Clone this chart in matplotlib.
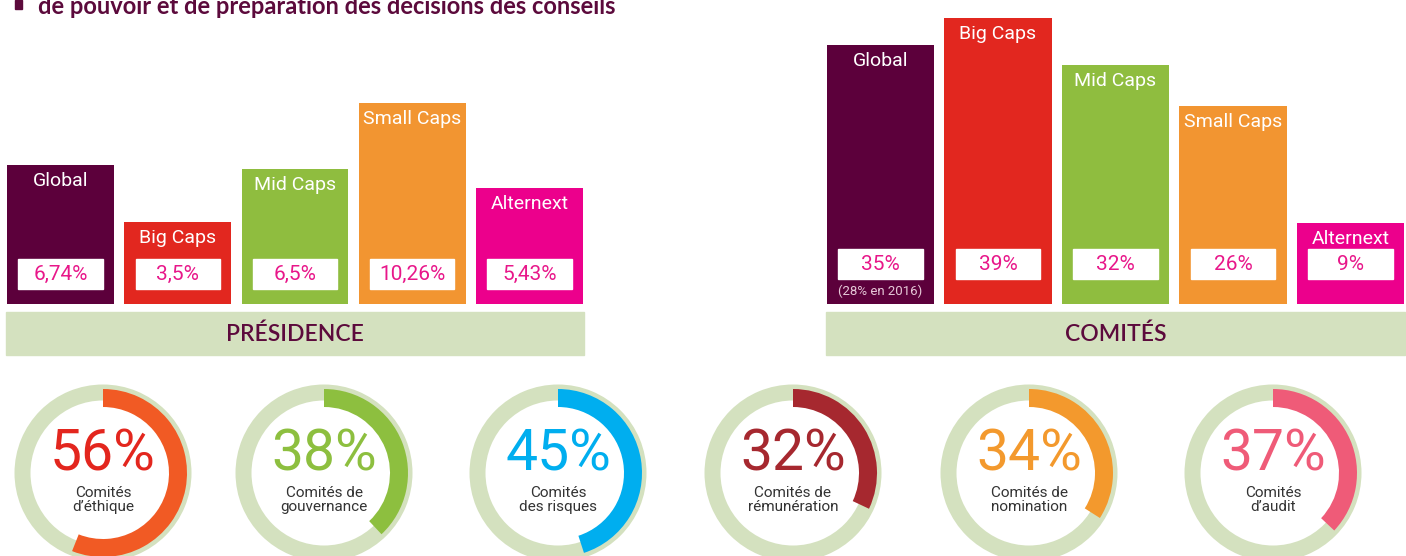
import matplotlib
matplotlib.use("Agg")
import matplotlib.pyplot as plt
from matplotlib.patches import Rectangle
from matplotlib.transforms import blended_transform_factory

W, H = 1406, 556
NARROW = ["Roboto", "DejaVu Sans"]
HEAD = ["Lato", "DejaVu Sans"]

# --- data ---
segments = ["Global", "Big Caps", "Mid Caps", "Small Caps", "Alternext"]
seg_colors = ["#5c003b", "#e2271f", "#8fbd3f", "#f29531", "#ec008c"]

presidence_vals = [6.74, 3.5, 6.5, 10.26, 5.43]
presidence_labels = ["6,74%", "3,5%", "6,5%", "10,26%", "5,43%"]

comites_vals = [35, 39, 32, 26, 9]
comites_labels = ["35%", "39%", "32%", "26%", "9%"]
comites_note = "(28% en 2016)"

committees = ["Comités\nd’éthique", "Comités de\ngouvernance", "Comités\ndes risques",
              "Comités de\nrémunération", "Comités de\nnomination", "Comités\nd’audit"]
committee_vals = [56, 38, 45, 32, 34, 37]
committee_colors = ["#f15a24", "#8dbf3f", "#00aeef", "#a6282f", "#f3992d", "#ef5b78"]
committee_txt = ["#e3261e", "#8dbf3f", "#00aeef", "#a6282f", "#f3992d", "#ef5b78"]

title = "de pouvoir et de préparation des décisions des conseils"

PURPLE = "#5c0a3c"
BAND = "#d4e1bf"
PINK = "#e8178a"

fig = plt.figure(figsize=(W / 100, H / 100), dpi=100)
fig.patch.set_facecolor("white")

# top line of text, cut by the top edge as in the source page
fig.add_artist(Rectangle((15 / W, 1 - 9 / H), 7 / W, 9 / H, transform=fig.transFigure,
                         color=PURPLE))
fig.text(38 / W, 1 - 14 / H, title, fontsize=17, fontweight="bold", color=PURPLE,
         family=HEAD, va="baseline", ha="left")


def bar_panel(x0, x1, vals, labels, px_per_unit, box_px, band_title, note=None):
    bottom_px = 304
    ax = fig.add_axes([x0 / W, (H - bottom_px) / H, (x1 - x0) / W, bottom_px / H])
    base = -20 / px_per_unit
    wid = 107 / 117.3
    xs = list(range(len(vals)))
    ax.bar(xs, [v - base for v in vals], bottom=base, width=wid, color=seg_colors)
    ax.set_xlim(-wid / 2, len(vals) - 1 + wid / 2)
    ax.set_ylim(base, base + bottom_px / px_per_unit)
    ax.axis("off")
    tr = blended_transform_factory(ax.transData, ax.transAxes)
    for i, (v, name, lab) in enumerate(zip(vals, segments, labels)):
        ax.annotate(name, (i, v), xytext=(0, -16 * 0.72), textcoords="offset points",
                    ha="center", va="center", color="white", fontsize=14, family=NARROW)
        ax.add_patch(Rectangle((i - 0.36, (box_px - 15) / bottom_px), 0.72, 30 / bottom_px,
                               transform=tr, color="white"))
        ax.text(i, box_px / bottom_px, lab, transform=tr, ha="center", va="center",
                color=PINK, fontsize=15, family=NARROW)
    if note:
        ax.text(0, 13 / bottom_px, note, transform=tr, ha="center", va="center",
                color="#e6c9d8", fontsize=9.5, family=NARROW)
    # band with panel title
    fig.add_artist(Rectangle(((x0 - 1) / W, (H - 355) / H), (x1 - x0 + 2) / W, 43 / H,
                             transform=fig.transFigure, color=BAND))
    fig.text((x0 + x1) / 2 / W, 1 - 334 / H, band_title, ha="center", va="center",
             color=PURPLE, fontsize=16.5, family=HEAD, fontweight="semibold")


bar_panel(7, 583, presidence_vals, presidence_labels, 17.66, 30, "PRÉSIDENCE")
bar_panel(827, 1404, comites_vals, comites_labels, 6.83, 40, "COMITÉS", note=comites_note)

# donuts
donut_cx = [103, 324, 558, 793, 1029, 1273]
cy, R = 473, 88.5
for cx, v, lab, col, tcol in zip(donut_cx, committee_vals, committees,
                                 committee_colors, committee_txt):
    ax = fig.add_axes([(cx - R) / W, (H - cy - R) / H, 2 * R / W, 2 * R / H])
    ax.pie([1], radius=1, colors=[BAND], wedgeprops=dict(width=16 / R, linewidth=0))
    ax.pie([v, 100 - v], radius=84 / R, startangle=90, counterclock=False,
           colors=[col, "none"], wedgeprops=dict(width=18 / R, linewidth=0))
    ax.set_xlim(-1, 1)
    ax.set_ylim(-1, 1)
    ax.text(0, 18 / R, f"{v}%", ha="center", va="center", color=tcol, fontsize=41,
            family=NARROW)
    ax.text(0, -27 / R, lab, ha="center", va="center", color="#333333", fontsize=11,
            family=NARROW, linespacing=1.0)

fig.savefig("out.png", dpi=100)
